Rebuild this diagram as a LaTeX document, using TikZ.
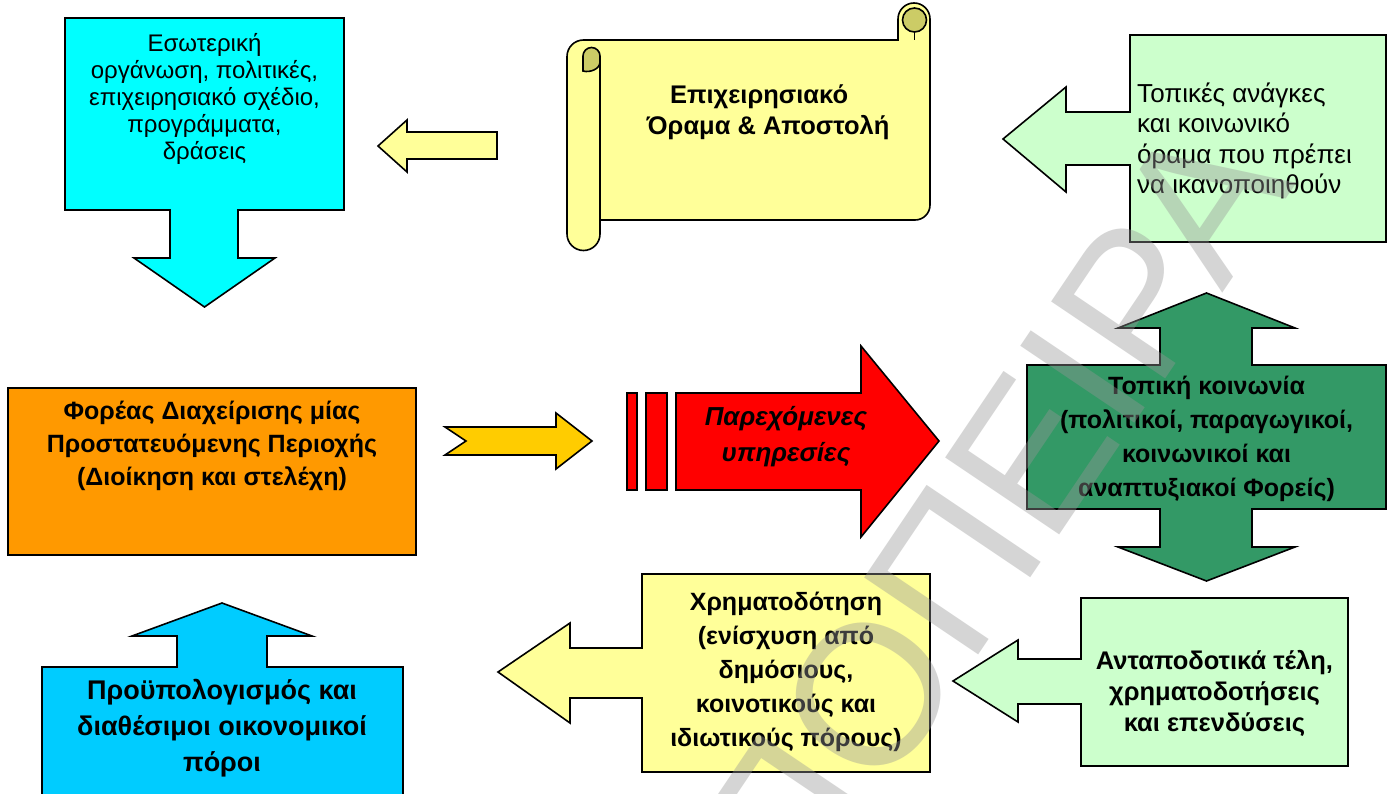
\documentclass[tikz,border=0pt]{standalone}
\usepackage{fontspec}
\setmainfont{Liberation Sans}
\definecolor{cyanbox}{HTML}{00FFFF}
\definecolor{bluebox}{HTML}{00CCFF}
\definecolor{paleyellow}{HTML}{FFFF99}
\definecolor{curlshade}{HTML}{CCCC66}
\definecolor{palegreen}{HTML}{CCFFCC}
\definecolor{darkgreen}{HTML}{339966}
\definecolor{orangebox}{HTML}{FF9900}
\definecolor{goldarrow}{HTML}{FFCC00}
\definecolor{redarrow}{HTML}{FF0000}
\definecolor{wmgray}{RGB}{150,150,150}
\tikzset{
  blk/.style={draw=black, line width=1.6pt, line join=miter},
  lbl/.style={align=center, inner sep=0pt, text=black},
  regtext/.style={font=\fontsize{24}{27}\selectfont},
  boldtext/.style={font=\bfseries\fontsize{25}{33}\selectfont},
}
\begin{document}
\begin{tikzpicture}[x=1pt,y=-1pt]
\clip (0,0) rectangle (1388,794);
\fill[white] (0,0) rectangle (1388,794);

% internal organisation box with down arrow
\path[blk, fill=cyanbox] (65,18) -- (344,18) -- (344,210) -- (238,210) -- (238,258)
  -- (275,258) -- (204.5,307) -- (134,258) -- (170,258) -- (170,210) -- (65,210) -- cycle;
\node[lbl, regtext] (organisation) at (204.5,99)
  {Εσωτερική\\οργάνωση, πολιτικές,\\επιχειρησιακό σχέδιο,\\προγράμματα,\\δράσεις};

% small arrow from the scroll to the organisation box
\path[blk, fill=paleyellow] (497,132) -- (407,132) -- (407,120) -- (378,146)
  -- (407,172) -- (407,159) -- (497,159) -- cycle;

% horizontal scroll: vision and mission
\path[blk, fill=paleyellow] (583.5,40) -- (898,40) -- (898,19)
  arc[start angle=180, end angle=360, radius=16] -- (930,205)
  arc[start angle=0, end angle=90, radius=15] -- (600,220) -- (600,234)
  arc[start angle=0, end angle=180, radius=16.5] -- (567,56.5)
  arc[start angle=180, end angle=270, radius=16.5] -- cycle;
\path[blk, fill=curlshade] (583,71) -- (583,56)
  arc[start angle=180, end angle=360, radius=8.5] -- (600,62)
  .. controls (600,69) and (590,73) .. (583,71) -- cycle;
\draw[blk] (600,62) -- (600,220);
\path[blk, fill=curlshade] (914.5,20) circle[radius=12];
\draw[blk] (914.5,32) -- (914.5,40);
\node[lbl, font=\bfseries\fontsize{25.5}{31}\selectfont] (vision) at (768,112)
  {Επιχειρησιακό\hspace*{18pt}\\Όραμα \& Αποστολή};

% local needs box with left arrow
\path[blk, fill=palegreen] (1130,35) -- (1386,35) -- (1386,242) -- (1130,242) -- (1130,165)
  -- (1066,165) -- (1066,192) -- (1003,139) -- (1066,87) -- (1066,112) -- (1130,112) -- cycle;
\node[lbl, align=left, anchor=west, font=\fontsize{26}{30.5}\selectfont] (needs) at (1137,141)
  {Τοπικές ανάγκες\\και κοινωνικό\\όραμα που πρέπει\\να ικανοποιηθούν};

% management body
\path[blk, fill=orangebox] (8,388) rectangle (416,555);
\node[lbl, boldtext] (body) at (212,446)
  {Φορέας Διαχείρισης μίας\\Προστατευόμενης Περιοχής\\(Διοίκηση και στελέχη)};

% notched arrow
\path[blk, fill=goldarrow] (445,427) -- (556,427) -- (556,413) -- (592,441) -- (556,469)
  -- (556,455) -- (445,455) -- (466,441) -- cycle;

% striped arrow: services provided
\path[blk, fill=redarrow] (627,393) rectangle (637,490);
\path[blk, fill=redarrow] (646,393) rectangle (667,490);
\path[blk, fill=redarrow] (676,393) -- (861,393) -- (861,346) -- (939,441) -- (861,537)
  -- (861,490) -- (676,490) -- cycle;
\node[lbl, font=\bfseries\itshape\fontsize{26}{36}\selectfont] (services) at (786,437)
  {Παρεχόμενες\\υπηρεσίες};

% local community with up/down arrow
\path[blk, fill=darkgreen] (1027,365) -- (1160,365) -- (1160,328) -- (1118,328) -- (1206.5,293)
  -- (1295,328) -- (1252,328) -- (1252,365) -- (1386,365) -- (1386,509) -- (1252,509)
  -- (1252,547) -- (1295,547) -- (1206.5,581) -- (1118,547) -- (1160,547) -- (1160,509)
  -- (1027,509) -- cycle;
\node[lbl, font=\bfseries\fontsize{25}{34}\selectfont] (community) at (1206.5,439)
  {Τοπική κοινωνία\\(πολιτικοί, παραγωγικοί,\\κοινωνικοί και\\αναπτυξιακοί Φορείς)};

% funding box with left arrow
\path[blk, fill=paleyellow] (642,574) -- (930,574) -- (930,772) -- (642,772) -- (642,698)
  -- (570,698) -- (570,723) -- (498,672) -- (570,623) -- (570,648) -- (642,648) -- cycle;
\node[lbl, font=\bfseries\fontsize{25}{34}\selectfont] (funding) at (786,672)
  {Χρηματοδότηση\\(ενίσχυση από\\δημόσιους,\\κοινοτικούς και\\ιδιωτικούς πόρους)};

% fees box with left arrow
\path[blk, fill=palegreen] (1081,598) -- (1348,598) -- (1348,766) -- (1081,766) -- (1081,704)
  -- (1018,704) -- (1018,722) -- (953,681) -- (1018,640) -- (1018,659) -- (1081,659) -- cycle;
\node[lbl, font=\bfseries\fontsize{25.5}{31}\selectfont] (fees) at (1214.5,693)
  {Ανταποδοτικά τέλη,\\χρηματοδοτήσεις\\και επενδύσεις};

% budget box with up arrow
\path[blk, fill=bluebox] (42,667) -- (177,667) -- (177,636) -- (132,636) -- (222,603)
  -- (312,636) -- (267,636) -- (267,667) -- (403,667) -- (403,810) -- (42,810) -- cycle;
\node[lbl, font=\bfseries\fontsize{27}{36}\selectfont] (budget) at (222,728)
  {Προϋπολογισμός και\\διαθέσιμοι οικονομικοί\\πόροι};

% watermark across the right half
\node[rotate=56, text=wmgray, text opacity=0.4, inner sep=0pt,
      font=\fontsize{200}{200}\selectfont] (watermark) at (955,567) {ΑΠΟΠΕΙΡΑ};
\end{tikzpicture}
\end{document}
